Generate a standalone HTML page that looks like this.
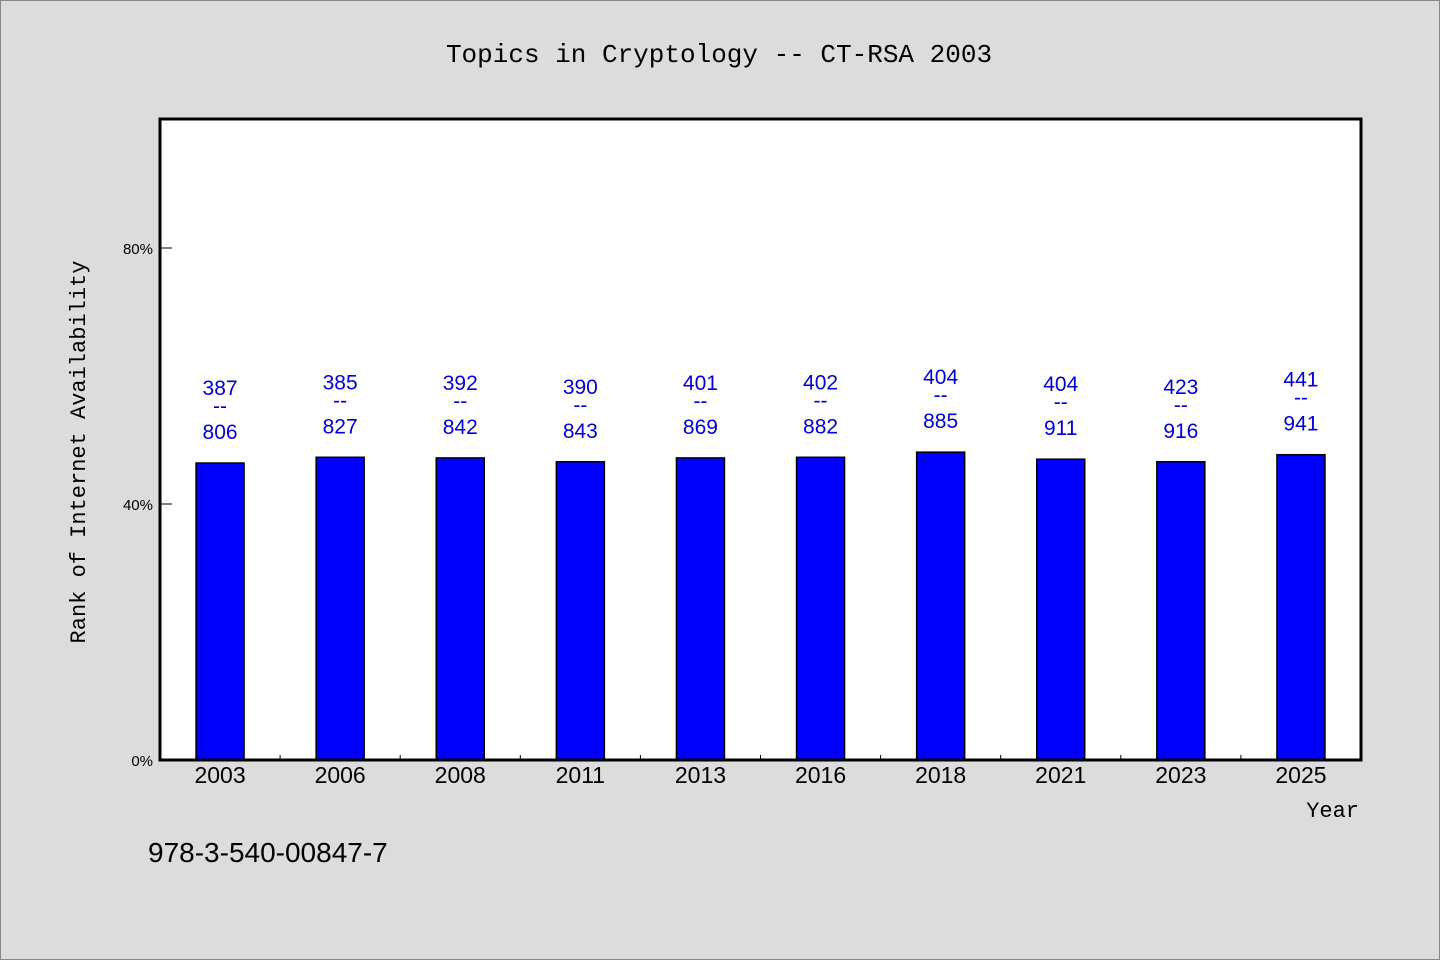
<!DOCTYPE html>
<html><head><meta charset="utf-8"><style>
html,body{margin:0;padding:0;background:#dcdcdc;}
svg{display:block;}
</style></head><body>
<svg width="1440" height="960" viewBox="0 0 1440 960" xmlns="http://www.w3.org/2000/svg">
<rect x="0.5" y="0.5" width="1439" height="959" fill="#dcdcdc" stroke="#888"/>
<text x="719" y="62" text-anchor="middle" font-family="Liberation Mono, monospace" font-size="26" fill="#000">Topics in Cryptology -- CT-RSA 2003</text>
<rect x="160" y="119" width="1201" height="641" fill="#fff"/>
<g id="bars"></g>
<g id="ticks"></g>
<rect x="160" y="119" width="1201" height="641" fill="none" stroke="#000" stroke-width="3"/>
<text transform="translate(85,452) rotate(-90)" text-anchor="middle" font-family="Liberation Mono, monospace" font-size="22" fill="#000">Rank of Internet Availability</text>
<text x="1359" y="817" text-anchor="end" font-family="Liberation Mono, monospace" font-size="22" fill="#000">Year</text>
<text x="148" y="862" font-family="Liberation Sans, sans-serif" font-size="28" fill="#000">978-3-540-00847-7</text>
</svg>
<script>
const categories = ["2003","2006","2008","2011","2013","2016","2018","2021","2023","2025"];
const values = [46.4, 47.3, 47.2, 46.6, 47.2, 47.3, 48.1, 47.0, 46.6, 47.7];
const numerators = ["387","385","392","390","401","402","404","404","423","441"];
const denominators = ["806","827","842","843","869","882","885","911","916","941"];
const yTicks = [0, 40, 80];
const yTickLabels = ["0%","40%","80%"];

const NS = "http://www.w3.org/2000/svg";
const x0 = 160, step = 120.1, y0 = 760, pxPer = 6.4, bw = 48;
function xScale(i){ return x0 + step*(i+0.5); }
function yScale(v){ return y0 - v*pxPer; }
function mk(tag, attrs, parent, text){
  const el = document.createElementNS(NS, tag);
  for (const k in attrs) el.setAttribute(k, attrs[k]);
  if (text !== undefined) el.textContent = text;
  parent.appendChild(el);
  return el;
}
const gb = document.getElementById("bars");
const gt = document.getElementById("ticks");
categories.forEach((c,i)=>{
  const cx = xScale(i), top = yScale(values[i]);
  const r = mk("rect",{x:cx-bw/2,y:top,width:bw,height:y0-top,fill:"#0000ff",stroke:"#000","stroke-width":1.5},gb);
  
  
  const t1 = mk("text",{x:cx,y:top-68,"text-anchor":"middle","font-family":"Liberation Sans, sans-serif","font-size":21,fill:"#0000dd"},gb,numerators[i]);
  
  
  const t2 = mk("text",{x:cx,y:top-50,"text-anchor":"middle","font-family":"Liberation Sans, sans-serif","font-size":21,fill:"#0000dd"},gb,"--");
  
  
  const t3 = mk("text",{x:cx,y:top-24,"text-anchor":"middle","font-family":"Liberation Sans, sans-serif","font-size":21,fill:"#0000dd"},gb,denominators[i]);
  
  
  const xl = mk("text",{x:cx,y:783,"text-anchor":"middle","font-family":"Liberation Sans, sans-serif","font-size":23,fill:"#000"},gt,c);
  
  
  if (i>0){
    const tk = mk("line",{x1:x0+step*i,x2:x0+step*i,y1:y0,y2:y0-5,stroke:"#000","stroke-width":1},gt);
    
    
  }
});
yTicks.forEach((v,i)=>{
  const y = yScale(v);
  const tk = mk("line",{x1:160,x2:172,y1:y,y2:y,stroke:"#000","stroke-width":1},gt);
  
  
  const tl = mk("text",{x:153,y:y+6,"text-anchor":"end","font-family":"Liberation Sans, sans-serif","font-size":15,fill:"#000"},gt,yTickLabels[i]);
  
  
});
</script>
</body></html>
